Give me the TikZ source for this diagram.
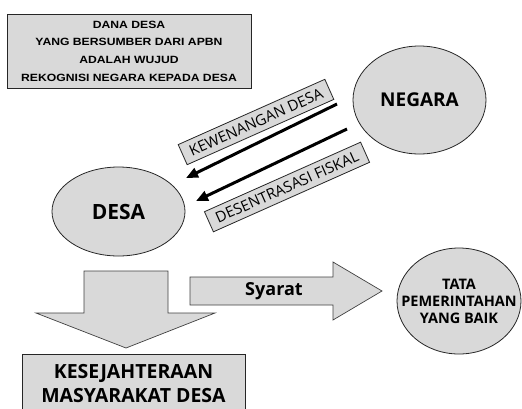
\documentclass[tikz,border=0pt]{standalone}
\usepackage{fontspec}
\usetikzlibrary{arrows.meta,shapes.geometric}
\setmainfont{Open Sans}
\newfontfamily\arialfont[FakeStretch=1.16]{Liberation Sans}
\definecolor{boxgray}{RGB}{217,217,217}
\tikzset{
  graybox/.style={draw=black!85, fill=boxgray, line width=0.8pt},
  bubble/.style={graybox, ellipse, inner sep=0pt, align=center},
  tagbox/.style={graybox, rotate=24, minimum height=22pt, inner xsep=8pt, font=\fontsize{15}{17}\selectfont},
  fatarrow/.style={draw=black!75, fill=boxgray, line width=0.7pt, line join=miter},
  thinarrow/.style={line width=3pt, -{Triangle[length=12pt,width=10pt]}}
}
\begin{document}
\begin{tikzpicture}[x=1pt,y=-1pt]
      \useasboundingbox (0,0) rectangle (522,408);
      \clip (0,0) rectangle (522,408);
      \node[graybox, minimum width=244pt, minimum height=74pt, align=center, inner sep=0pt,
        font=\arialfont\bfseries\fontsize{10.5}{17.7}\selectfont] (rekognisi) at (129,51)
        {DANA DESA\\YANG BERSUMBER DARI APBN\\ADALAH WUJUD\\REKOGNISI NEGARA KEPADA DESA};
      \node[bubble, minimum width=133pt, minimum height=108pt, font=\bfseries\fontsize{19}{22}\selectfont] (negara) at (419.5,100) {NEGARA};
      \node[bubble, minimum width=133pt, minimum height=89pt, font=\bfseries\fontsize{21}{24}\selectfont] (desa) at (118.5,211.5) {DESA};
      \node[bubble, inner xsep=-14pt, minimum width=124pt, minimum height=106pt, font=\bfseries\fontsize{14.5}{17}\selectfont] (tata) at (459,301) {TATA\\PEMERINTAHAN\\YANG BAIK};
      \coordinate (kew1) at (337,104);
      \coordinate (kew2) at (186,178);
      \coordinate (fis1) at (347,129);
      \coordinate (fis2) at (196,201);
      \draw[thinarrow] (kew1) -- (kew2);
      \draw[thinarrow] (fis1) -- (fis2);
      \node[tagbox] (kewenangan) at (256,122) {KEWENANGAN DESA};
      \node[tagbox] (fiskal) at (287,187) {DESENTRASASI FISKAL};
      \draw[fatarrow] (84,271) -- (168,271) -- (168,313) -- (215,313) -- (126,348) -- (36,313) -- (84,313) -- cycle;
      \draw[fatarrow] (190,277) -- (333,277) -- (333,262) -- (382,291) -- (333,320) -- (333,305) -- (190,305) -- cycle;
      \node[font=\bfseries\fontsize{18}{20}\selectfont] (syarat) at (274,291) {Syarat};
      \node[graybox, minimum width=223pt, minimum height=60pt, align=center,
        font=\bfseries\fontsize{19.5}{24}\selectfont] (sejahtera) at (133.5,384)
        {KESEJAHTERAAN\\MASYARAKAT DESA};
    \end{tikzpicture}
\end{document}
